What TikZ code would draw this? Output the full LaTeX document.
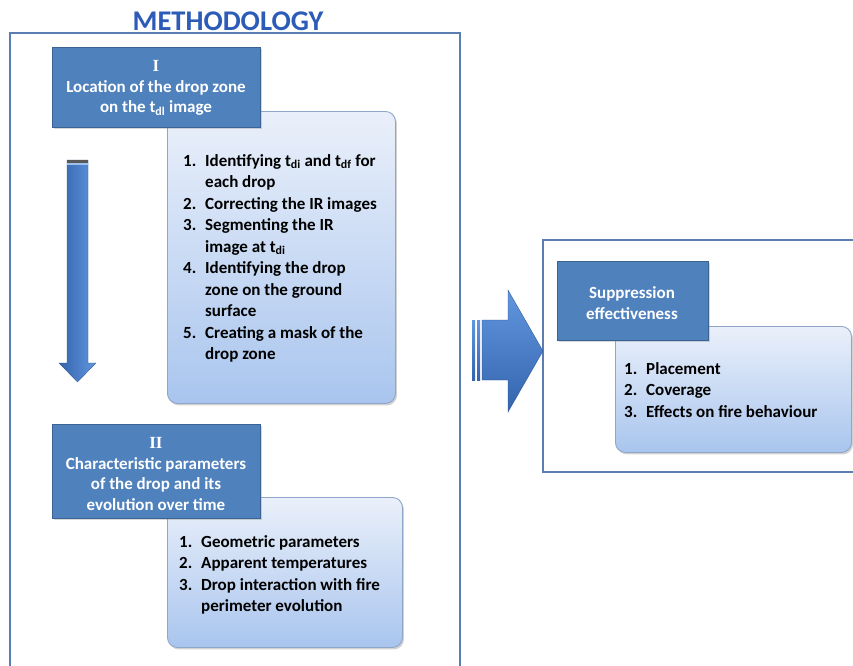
\documentclass[tikz,border=0pt]{standalone}
\usepackage{fontspec}
\setmainfont{Carlito}
\newfontfamily\numfont{Liberation Serif}
\usetikzlibrary{shadows}
\definecolor{darkbox}{HTML}{4F81BD}
\definecolor{darkedge}{HTML}{3A6394}
\definecolor{lighttop}{HTML}{EAF0FA}
\definecolor{lightbot}{HTML}{A9C5EE}
\definecolor{lightedge}{HTML}{8EA6C8}
\definecolor{frameblue}{HTML}{5B7DB1}
\definecolor{titleblue}{HTML}{2C5CB8}
\definecolor{arrowdark}{HTML}{3464AE}
\definecolor{arrowlight}{HTML}{6197DF}
\tikzset{
  framebox/.style={draw=frameblue, line width=1.6pt},
  lightbox/.style={draw=lightedge, line width=0.9pt, rounded corners=10pt,
    top color=lighttop, bottom color=lightbot, inner sep=0pt,
    drop shadow={opacity=0.35, shadow xshift=1.5pt, shadow yshift=-2pt}},
  darkbox/.style={draw=darkedge, line width=0.8pt, fill=darkbox, inner sep=0pt,
    drop shadow={opacity=0.3, shadow xshift=1.5pt, shadow yshift=-2pt}},
  headtext/.style={text=white, align=center, font=\fontsize{17}{20.5}\selectfont\bfseries, inner sep=0pt},
  listtext/.style={anchor=base west, inner sep=0pt, text=black,
    font=\fontsize{17}{21.5}\selectfont\bfseries},
}
\newcommand{\nm}[1]{\makebox[22pt][l]{#1}}
\newcommand{\sbs}[1]{\textsubscript{#1}}
\begin{document}
\begin{tikzpicture}[x=1pt,y=-1pt]
\useasboundingbox (0,0) rectangle (853,665);
\clip (0,0) rectangle (853,665);
\fill[white] (0,0) rectangle (853,665);

% title
\node[font=\fontsize{28.5}{30}\selectfont\bfseries, text=titleblue, inner sep=0pt] (title) at (228,21) {METHODOLOGY};

% frames
\draw[framebox] (10,33) rectangle (460,720);
\draw[framebox] (543,240) rectangle (900,472);

% light boxes
\node[lightbox, anchor=north west, minimum width=228pt, minimum height=292pt] (lbI) at (167,111) {};
\node[lightbox, anchor=north west, minimum width=235pt, minimum height=150pt] (lbII) at (167,497) {};
\node[lightbox, anchor=north west, minimum width=236pt, minimum height=126pt] (lbS) at (615,326) {};

% dark boxes
\node[darkbox, anchor=north west, minimum width=208pt, minimum height=80pt] (dbI) at (52,47) {};
\node[darkbox, anchor=north west, minimum width=208pt, minimum height=94pt] (dbII) at (52,424) {};
\node[darkbox, anchor=north west, minimum width=151pt, minimum height=79pt] (dbS) at (557,261) {};

% head texts
\node[headtext] (hI) at (156,88) {{\numfont I}\\Location of the drop zone\\on the t\sbs{dl} image};
\node[headtext] (hII) at (156,474) {{\numfont II}\\Characteristic parameters\\of the drop and its\\evolution over time};
\node[headtext] (hS) at (632,303) {Suppression\\effectiveness};

% lists
\node[listtext] (listI) at (183,166) {\begin{tabular}[t]{@{}l@{}l@{}}
\nm{1.} & Identifying t\sbs{di} and t\sbs{df} for\\
 & each drop\\
\nm{2.} & Correcting the IR images\\
\nm{3.} & Segmenting the IR\\
 & image at t\sbs{di}\\
\nm{4.} & Identifying the drop\\
 & zone on the ground\\
 & surface\\
\nm{5.} & Creating a mask of the\\
 & drop zone
\end{tabular}};

\node[listtext] (listII) at (179,547) {\begin{tabular}[t]{@{}l@{}l@{}}
\nm{1.} & Geometric parameters\\
\nm{2.} & Apparent temperatures\\
\nm{3.} & Drop interaction with fire\\
 & perimeter evolution
\end{tabular}};

\node[listtext] (listS) at (624,374) {\begin{tabular}[t]{@{}l@{}l@{}}
\nm{1.} & Placement\\
\nm{2.} & Coverage\\
\nm{3.} & Effects on fire behaviour
\end{tabular}};

% down arrow
\shade[left color=arrowdark, right color=arrowlight, draw=arrowdark!80!black, line width=0.3pt]
  (67,160) -- (88,160) -- (88,363) -- (96,363) -- (77.5,382) -- (59,363) -- (67,363) -- cycle;
\fill[gray!70!black] (67,160) rectangle (88,163);
\fill[arrowlight!60!white] (67,163) rectangle (88,165);

% right arrow
\shade[top color=arrowlight, bottom color=arrowdark]
  (472,320) rectangle (475,380);
\shade[top color=arrowlight, bottom color=arrowdark]
  (477,320) rectangle (480,380);
\shade[top color=arrowlight, bottom color=arrowdark, draw=arrowdark!80!black, line width=0.3pt]
  (482,320) -- (508,320) -- (508,290) -- (543,351) -- (508,412) -- (508,380) -- (482,380) -- cycle;
\end{tikzpicture}
\end{document}
